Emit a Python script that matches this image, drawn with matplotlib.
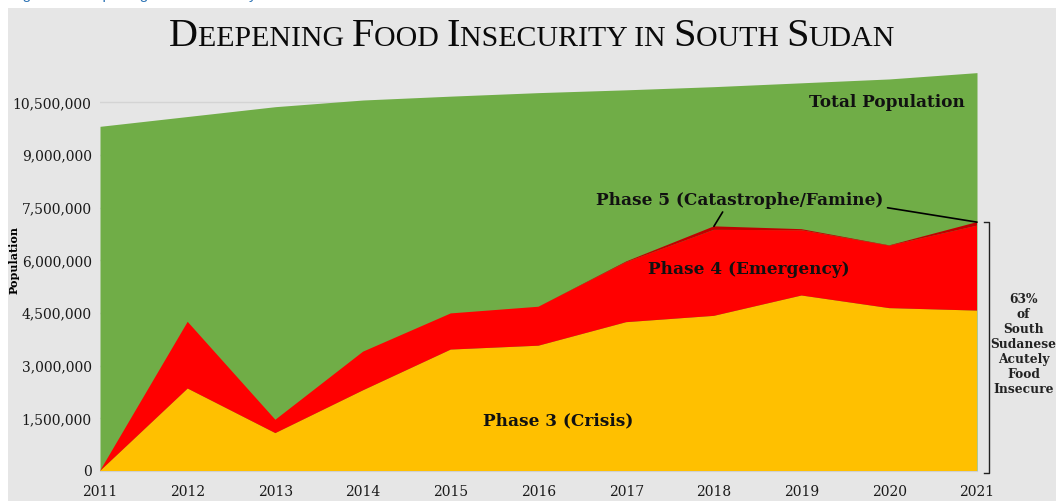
import numpy as np
import matplotlib.pyplot as plt
from matplotlib.patches import Rectangle
from matplotlib.offsetbox import TextArea, HPacker, AnchoredOffsetbox
from matplotlib.ticker import FuncFormatter

# Datos (millones de personas)
years = [2011, 2012, 2013, 2014, 2015, 2016, 2017, 2018, 2019, 2020, 2021]
total_pop = [9.82, 10.10, 10.38, 10.57, 10.68, 10.78, 10.86, 10.95, 11.06, 11.17, 11.35]
phase3 = [0.0, 2.35, 1.08, 2.30, 3.46, 3.57, 4.24, 4.42, 5.00, 4.64, 4.57]
phase4 = [0.0, 1.90, 0.38, 1.10, 1.03, 1.11, 1.71, 2.45, 1.86, 1.78, 2.42]
phase5 = [0.0, 0.0, 0.0, 0.0, 0.0, 0.0, 0.02, 0.10, 0.03, 0.01, 0.10]
ytick_vals = [0, 1.5, 3.0, 4.5, 6.0, 7.5, 9.0, 10.5]

verde = "#70AD47"
amarillo = "#FFC000"
rojo = "#FF0000"
rojo_osc = "#C00000"
fondo = "#E6E6E6"

serif = "Liberation Serif"
serif2 = "DejaVu Serif"

fig = plt.figure(figsize=(10.56, 5.01), dpi=100, facecolor="white")

# panel gris de fondo
fig.patches.append(Rectangle((8 / 1056, 0), 1, 1 - 8 / 501, transform=fig.transFigure,
                             facecolor=fondo, edgecolor="none", zorder=-5))

# texto azul cortado arriba (pie de figura del documento)
fig.text(10 / 1056, 1.0 + 1.5 / 501, "Figure 2: Deepening Food Insecurity in South Sudan",
         color="#2E74B5", fontsize=11, family="Liberation Sans", va="baseline", ha="left")

ax = fig.add_axes([100 / 1056, 30 / 501, 877 / 1056, 0.8407])
ax.set_facecolor(fondo)

y = np.array(years)
tot = np.array(total_pop) * 1e6
p3 = np.array(phase3) * 1e6
p4 = np.array(phase4) * 1e6
p5 = np.array(phase5) * 1e6
top = p3 + p4 + p5

ax.fill_between(y, 0, tot, color=verde, lw=0, zorder=2)
ax.stackplot(y, p3, p4, p5, colors=[amarillo, rojo, rojo_osc], lw=0, zorder=3)

ax.set_xlim(2011, 2021)
ax.set_ylim(0, 12e6)
ax.set_xticks(years)
ax.set_yticks(np.array(ytick_vals) * 1e6)
ax.yaxis.set_major_formatter(FuncFormatter(lambda v, p: f"{v:,.0f}"))
ax.tick_params(axis="both", length=0, labelsize=10, colors="#1a1a1a")
ax.tick_params(axis="y", pad=6)
ax.tick_params(axis="x", pad=10)
for lab in ax.get_xticklabels() + ax.get_yticklabels():
    lab.set_family(serif2)
ax.grid(axis="y", color="#D4D4D4", lw=1, zorder=1)
ax.set_axisbelow(True)
for s in ["top", "right", "left"]:
    ax.spines[s].set_visible(False)
ax.spines["bottom"].set_color("#D0D0D0")
ax.set_ylabel("Population", family=serif2, fontsize=8, fontweight="bold", labelpad=0)
ax.yaxis.set_label_coords(-0.092, 0.5)

# titulo en versalitas
partes = [("D", 29), ("EEPENING ", 21.5), ("F", 29), ("OOD ", 21.5), ("I", 29),
          ("NSECURITY IN ", 21.5), ("S", 29), ("OUTH ", 21.5), ("S", 29), ("UDAN", 21.5)]
cajas = [TextArea(t, textprops=dict(fontsize=s, family=serif, color="#0a0a0a")) for t, s in partes]
pack = HPacker(children=cajas, align="baseline", pad=0, sep=0)
tit = AnchoredOffsetbox(loc="center", child=pack, pad=0, frameon=False,
                        bbox_to_anchor=(532 / 1056, 1 - 36 / 501), bbox_transform=fig.transFigure)
fig.add_artist(tit)

# etiquetas de las areas
kw = dict(family=serif2, fontweight="bold", fontsize=12.2, color="#111111", zorder=6)
ax.text(2020.86, 10.5e6, "Total Population", ha="right", va="center", **kw)
ax.text(2018.29, 7.7e6, "Phase 5 (Catastrophe/Famine)", ha="center", va="center", **kw)
ax.text(2018.40, 5.75e6, "Phase 4 (Emergency)", ha="center", va="center", **kw)
ax.text(2016.22, 1.42e6, "Phase 3 (Crisis)", ha="center", va="center", **kw)

# lineas guia de fase 5
ax.annotate("", xy=(years[-1], top[-1]), xytext=(2019.98, 7.5e6),
            arrowprops=dict(arrowstyle="-", color="black", lw=1.2, shrinkA=0, shrinkB=0), zorder=6)
ax.annotate("", xy=(years[7], top[7]), xytext=(2018.1, 7.38e6),
            arrowprops=dict(arrowstyle="-", color="black", lw=1.2, shrinkA=0, shrinkB=0), zorder=6)

# corchete de la derecha
xb = 2021.14
ax.plot([xb - 0.06, xb, xb, xb - 0.06], [top[-1], top[-1], -0.05e6, -0.05e6],
        color="#222222", lw=1, clip_on=False, zorder=6)
ax.text(2021.53, 3.6e6, "63%\nof\nSouth\nSudanese\nAcutely\nFood\nInsecure",
        ha="center", va="center", family=serif2, fontweight="bold", fontsize=8.8,
        linespacing=1.2, color="#222222", clip_on=False)

fig.savefig("out.png", dpi=100, facecolor=fig.get_facecolor())
